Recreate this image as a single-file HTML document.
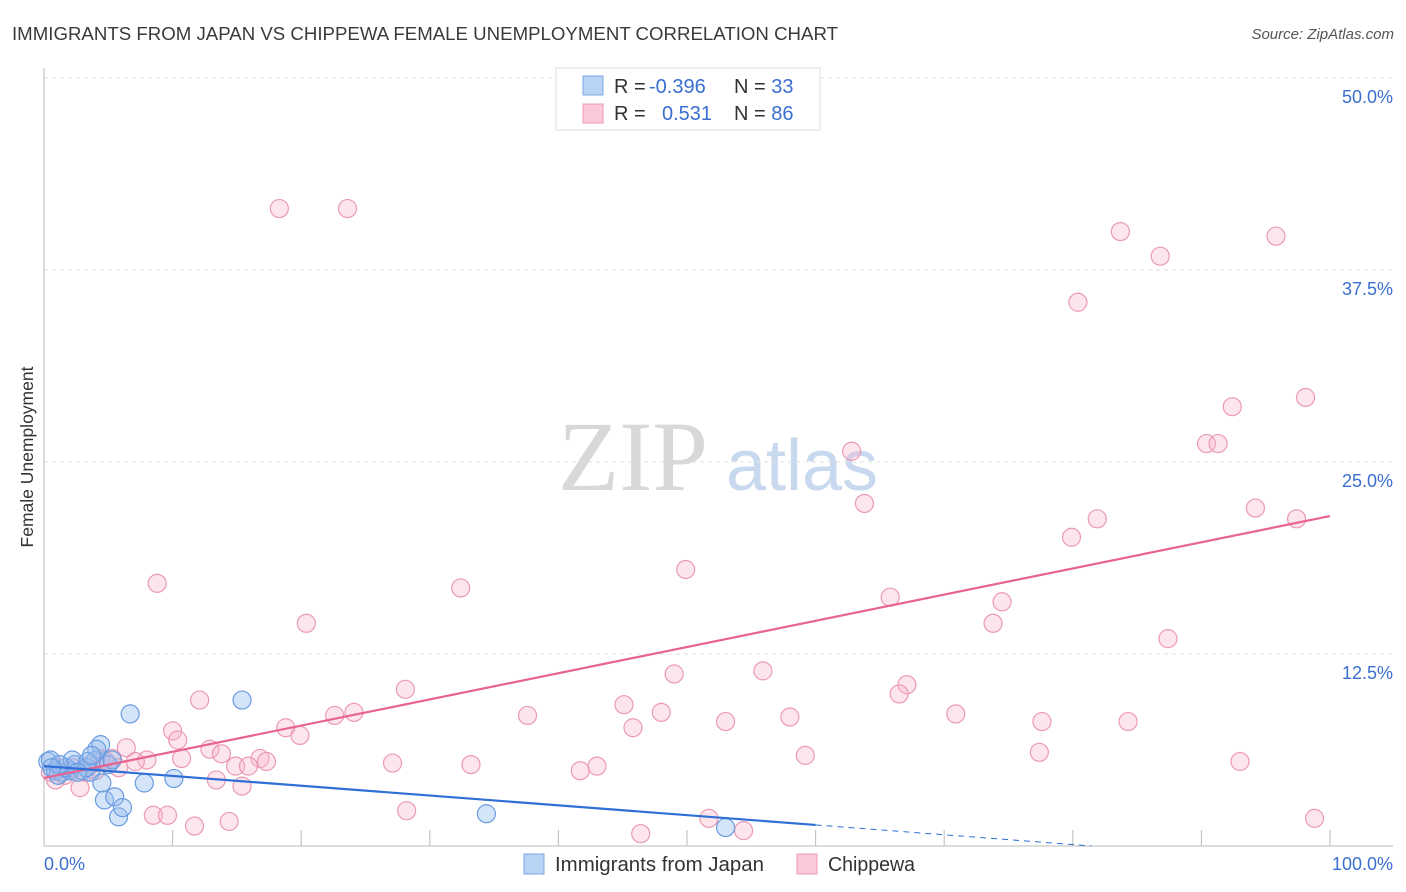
<!DOCTYPE html>
<html><head><meta charset="utf-8"><style>
body{margin:0;background:#fff;font-family:"Liberation Sans",sans-serif}
svg{display:block}
</style></head><body>
<svg id="c" width="1406" height="892" xmlns="http://www.w3.org/2000/svg">
<text x="12" y="40" font-size="18" fill="#3a3a3a" textLength="826" lengthAdjust="spacingAndGlyphs">IMMIGRANTS FROM JAPAN VS CHIPPEWA FEMALE UNEMPLOYMENT CORRELATION CHART</text>
<text x="1394" y="39" font-size="15" fill="#555" font-style="italic" text-anchor="end">Source: ZipAtlas.com</text>
<text transform="translate(33,457) rotate(-90)" font-size="17.5" fill="#333" text-anchor="middle">Female Unemployment</text>
<g>
<text x="633" y="490" font-size="100" font-family="Liberation Serif,serif" fill="#d8d8d8" text-anchor="middle">ZIP</text>
<text x="802" y="490" font-size="72" fill="#c8d8ee" text-anchor="middle">atlas</text>
</g>
<g id="grid"></g><g id="axes"></g><g id="marks"></g>
<g>
<rect x="556" y="68" width="264" height="62" fill="#fff" stroke="#ddd"/>
<rect x="583" y="76" width="20" height="19" fill="#b9d3f5" stroke="#7aa7e6"/>
<rect x="583" y="104" width="20" height="19" fill="#fac8d7" stroke="#eb9ab4"/>
<text x="614" y="93" font-size="20" fill="#333">R = <tspan fill="#3a6fd0" x="649">-0.396</tspan></text>
<text x="734" y="93" font-size="20" fill="#333">N = <tspan fill="#3a6fd0">33</tspan></text>
<text x="614" y="120" font-size="20" fill="#333">R = <tspan fill="#3a6fd0" x="662">0.531</tspan></text>
<text x="734" y="120" font-size="20" fill="#333">N = <tspan fill="#3a6fd0">86</tspan></text>
</g>
<g>
<rect x="524" y="854" width="20" height="20" fill="#b9d3f5" stroke="#7aa7e6"/>
<text x="555" y="871" font-size="20" fill="#333" textLength="209" lengthAdjust="spacingAndGlyphs">Immigrants from Japan</text>
<rect x="797" y="854" width="20" height="20" fill="#fac8d7" stroke="#eb9ab4"/>
<text x="828" y="871" font-size="20" fill="#333" textLength="87" lengthAdjust="spacingAndGlyphs">Chippewa</text>
</g>
</svg>
<script>
const yTicks=[12.5,25.0,37.5,50.0];
const yTickLabels=["12.5%","25.0%","37.5%","50.0%"];
const xTicks=[10,20,30,40,50,60,70,80,90,100];
const xEndLabels=["0.0%","100.0%"];
const blueX=[0.3,0.9,1.4,2.0,2.4,3.0,3.6,4.0,4.4,4.1,5.0,5.3,6.7,15.4,4.5,4.7,5.5,5.8,6.1,7.8,10.1,34.4,53.0,0.5,1.1,1.7,2.2,3.3,3.4,3.7,2.6,1.2,0.6];
const blueY=[5.5,4.9,4.8,4.9,5.3,4.9,4.8,5.6,6.6,6.3,5.3,5.6,8.6,9.5,4.1,3.0,3.2,1.9,2.5,4.1,4.4,2.1,1.2,5.6,4.6,5.1,5.6,5.1,5.5,5.9,4.8,5.3,5.1];
const pinkX=[18.3,23.6,83.7,95.8,86.8,80.4,92.4,98.1,90.4,91.3,62.8,63.8,94.2,81.9,97.4,79.9,8.8,32.4,49.9,65.8,74.5,20.4,73.8,87.4,49.0,55.9,67.1,28.1,66.5,12.1,45.1,22.6,24.1,37.6,48.0,70.9,53.0,58.0,77.6,84.3,10.0,18.8,10.4,19.9,45.8,6.4,12.9,13.8,10.7,59.2,77.4,8.0,16.8,17.3,7.1,5.3,27.1,33.2,43.0,41.7,93.0,14.9,15.9,5.8,13.4,15.4,2.8,8.5,9.6,28.2,14.4,11.7,46.4,51.7,54.4,98.8,0.5,0.9,1.6,2.2,3.2,4.0,4.4,1.2,3.6,4.7];
const pinkY=[41.5,41.5,40.0,39.7,38.4,35.4,28.6,29.2,26.2,26.2,25.7,22.3,22.0,21.3,21.3,20.1,17.1,16.8,18.0,16.2,15.9,14.5,14.5,13.5,11.2,11.4,10.5,10.2,9.9,9.5,9.2,8.5,8.7,8.5,8.7,8.6,8.1,8.4,8.1,8.1,7.5,7.7,6.9,7.2,7.7,6.4,6.3,6.0,5.7,5.9,6.1,5.6,5.7,5.5,5.5,5.7,5.4,5.3,5.2,4.9,5.5,5.2,5.2,5.1,4.3,3.9,3.8,2.0,2.0,2.3,1.6,1.3,0.8,1.8,1.0,1.8,4.8,4.3,4.6,5.1,4.8,4.9,5.7,5.1,5.3,5.6];
const blueTrend=[5.2,1.37];   // y at x=0 and x=60
const pinkTrend=[4.43,21.48]; // y at x=0 and x=100
const NS="http://www.w3.org/2000/svg";
const sx=v=>44+v*12.86, sy=v=>846-v*15.36;
function mk(t,a,p){const e=document.createElementNS(NS,t);for(const k in a)e.setAttribute(k,a[k]);p.appendChild(e);return e;}
const grid=document.getElementById('grid'),axes=document.getElementById('axes'),marks=document.getElementById('marks');
yTicks.forEach((v,i)=>{
 const l=mk('line',{x1:44,x2:1393,y1:sy(v),y2:sy(v),stroke:'#e2e2e2','stroke-dasharray':'4,4'},grid);
 
 
 const t=mk('text',{x:1393,y:sy(v)+25,'font-size':18,fill:'#3a6fd0','text-anchor':'end'},axes);
 t.textContent=yTickLabels[i];
 
 
});
let a=mk('line',{x1:44,x2:44,y1:68,y2:846,stroke:'#bbb'},axes);


a=mk('line',{x1:44,x2:1393,y1:846,y2:846,stroke:'#bbb'},axes);


xTicks.forEach(v=>{const l=mk('line',{x1:sx(v),x2:sx(v),y1:830,y2:846,stroke:'#bbb'},axes);
 
 });
let t=mk('text',{x:44,y:870,'font-size':18,fill:'#3a6fd0'},axes);t.textContent=xEndLabels[0];


t=mk('text',{x:1393,y:870,'font-size':18,fill:'#3a6fd0','text-anchor':'end'},axes);t.textContent=xEndLabels[1];


pinkX.forEach((x,i)=>{const c=mk('circle',{cx:sx(x),cy:sy(pinkY[i]),r:9,fill:'rgba(248,180,200,0.35)',stroke:'#eb9ab4','stroke-width':1.2},marks);
 
 });
blueX.forEach((x,i)=>{const c=mk('circle',{cx:sx(x),cy:sy(blueY[i]),r:9,fill:'rgba(150,190,240,0.4)',stroke:'#6a9be0','stroke-width':1.2},marks);
 
 });
let tl=mk('line',{x1:sx(0),y1:sy(pinkTrend[0]),x2:sx(100),y2:sy(pinkTrend[1]),stroke:'#e8648e','stroke-width':2.2},marks);


tl=mk('line',{x1:sx(0),y1:sy(blueTrend[0]),x2:sx(60),y2:sy(blueTrend[1]),stroke:'#2f6fd6','stroke-width':2.2},marks);


const slope=(blueTrend[1]-blueTrend[0])/60, xz=Math.min(100,-blueTrend[0]/slope);
tl=mk('line',{x1:sx(60),y1:sy(blueTrend[1]),x2:sx(xz),y2:sy(blueTrend[0]+slope*xz),stroke:'#2f6fd6','stroke-width':1,'stroke-dasharray':'6,5'},marks);


</script>
</body></html>
